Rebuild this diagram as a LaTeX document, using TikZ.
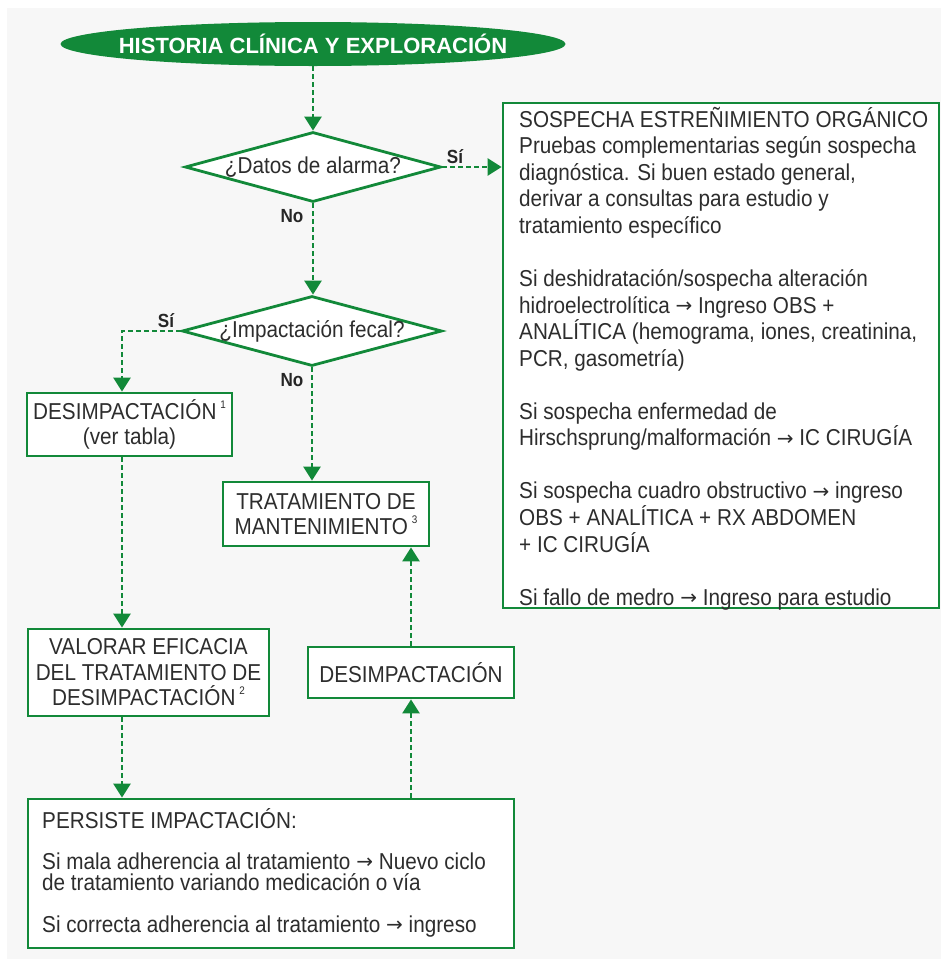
\documentclass[tikz,border=0pt]{standalone}
\usepackage{fontspec}
\setmainfont[FakeStretch=0.9]{Liberation Sans}
\newfontfamily\titulo{Liberation Sans}
\newfontfamily\flechas{DejaVu Sans}
\usetikzlibrary{shapes.geometric,arrows.meta,calc}
\definecolor{verde}{RGB}{18,137,57}
\definecolor{tinta}{RGB}{45,45,45}
\definecolor{fondo}{RGB}{247,247,247}
\newcommand\nota[1]{\,{\fontsize{11}{11}\selectfont\raisebox{11pt}{#1}}}
\newcommand\flecha{{\flechas\fontsize{20}{20}\selectfont\raisebox{0.5pt}{→}}}
\begin{document}
\begin{tikzpicture}[x=1pt,y=-1pt,
  caja/.style={draw=verde, line width=2.8pt, fill=white, inner sep=0pt,
    align=center, text=tinta, font=\fontsize{23}{25.5}\selectfont},
  rombo/.style={draw=verde, line width=2.8pt, fill=white, diamond, inner sep=0pt},
  preg/.style={inner sep=0pt, text=tinta, font=\fontsize{23}{25}\selectfont},
  flujo/.style={draw=verde, line width=2.6pt, dash pattern=on 5pt off 3pt,
    -{Triangle[width=17pt,length=14pt]}},
  resp/.style={inner sep=0pt, text=black!85, font=\bfseries\fontsize{19}{20}\selectfont},
  texto/.style={anchor=north west, inner sep=0pt, align=left, text=tinta}
]
% page and background
\path[fill=white] (0,0) rectangle (941,967);
\fill[fondo] (7,8) rectangle (941,959);

% start ellipse
\node[ellipse, fill=verde, inner sep=0pt, minimum width=505pt, minimum height=44pt] (inicio) at (313,44) {};
\node[inner sep=0pt, text=white, font=\titulo\bfseries\fontsize{22}{24}\selectfont] (iniciotxt) at (inicio) {HISTORIA CLÍNICA Y EXPLORACIÓN};

% decisions
\node[rombo, minimum width=256pt, minimum height=70pt] (alarma) at (313,167) {};
\node[preg] (alarmatxt) at (alarma) {¿Datos de alarma?};
\node[rombo, minimum width=260pt, minimum height=70pt] (impact) at (312,331) {};
\node[preg] (impacttxt) at (impact) {¿Impactación fecal?};

% organic constipation box
\node[caja, minimum width=436pt, minimum height=505pt] (organico) at (721,355.5) {};
\node[texto, font=\fontsize{23}{26.55}\selectfont] (organicotxt) at (519,105) {\rule{0pt}{22pt}SOSPECHA ESTREÑIMIENTO ORGÁNICO\\
Pruebas complementarias según sospecha\\
diagnóstica. Si buen estado general,\\
derivar a consultas para estudio y\\
tratamiento específico\\[26.55pt]
Si deshidratación/sospecha alteración\\
hidroelectrolítica \flecha{} Ingreso OBS +\\
ANALÍTICA (hemograma, iones, creatinina,\\
PCR, gasometría)\\[26.55pt]
Si sospecha enfermedad de\\
Hirschsprung/malformación \flecha{} IC CIRUGÍA\\[26.55pt]
Si sospecha cuadro obstructivo \flecha{} ingreso\\
OBS + ANALÍTICA + RX ABDOMEN\\
+ IC CIRUGÍA\\[26.55pt]
Si fallo de medro \flecha{} Ingreso para estudio};

% treatment boxes
\node[caja, minimum width=205pt, minimum height=63pt] (desimp) at (129.5,424.5) {DESIMPACTACIÓN\nota{1}\\(ver tabla)};
\node[caja, minimum width=206pt, minimum height=64pt] (mant) at (326,514) {TRATAMIENTO DE\\MANTENIMIENTO\nota{3}};
\node[caja, minimum width=241pt, minimum height=87pt] (valorar) at (148.5,672.5) {VALORAR EFICACIA\\DEL TRATAMIENTO DE\\DESIMPACTACIÓN\nota{2}};
\node[caja, minimum width=206pt, minimum height=51pt] (desimp2) at (411,672.5) {DESIMPACTACIÓN};
\node[caja, minimum width=486pt, minimum height=149pt] (persiste) at (271,873.5) {};
\node[texto, font=\fontsize{23}{21}\selectfont] (persistetxt) at (42,806) {\rule{0pt}{22pt}PERSISTE IMPACTACIÓN:\\[20pt]
Si mala adherencia al tratamiento \flecha{} Nuevo ciclo\\
de tratamiento variando medicación o vía\\[21pt]
Si correcta adherencia al tratamiento \flecha{} ingreso};

% answer labels
\node[resp] (si1) at (455,157) {Sí};
\node[resp] (no1) at (292,216) {No};
\node[resp] (si2) at (166,321) {Sí};
\node[resp] (no2) at (292,380) {No};

% connectors
\draw[flujo] (inicio) -- (alarma);
\draw[flujo] (alarma.east) -- (alarma.east -| organico.west);
\draw[flujo] (alarma.south) -- (alarma.south |- impact.north);
\draw[flujo] (impact.west) -| ([xshift=-7.5pt]desimp.north);
\draw[flujo] (impact.south) -- (impact.south |- mant.north);
\draw[flujo] ([xshift=-7.5pt]desimp.south) -- ([xshift=-7.5pt]desimp.south |- valorar.north);
\draw[flujo] ([xshift=-26.5pt]valorar.south) -- ([xshift=-26.5pt]valorar.south |- persiste.north);
\draw[flujo] (desimp2.south |- persiste.north) -- (desimp2.south);
\draw[flujo] (desimp2.north) -- (desimp2.north |- mant.south);
\end{tikzpicture}
\end{document}
